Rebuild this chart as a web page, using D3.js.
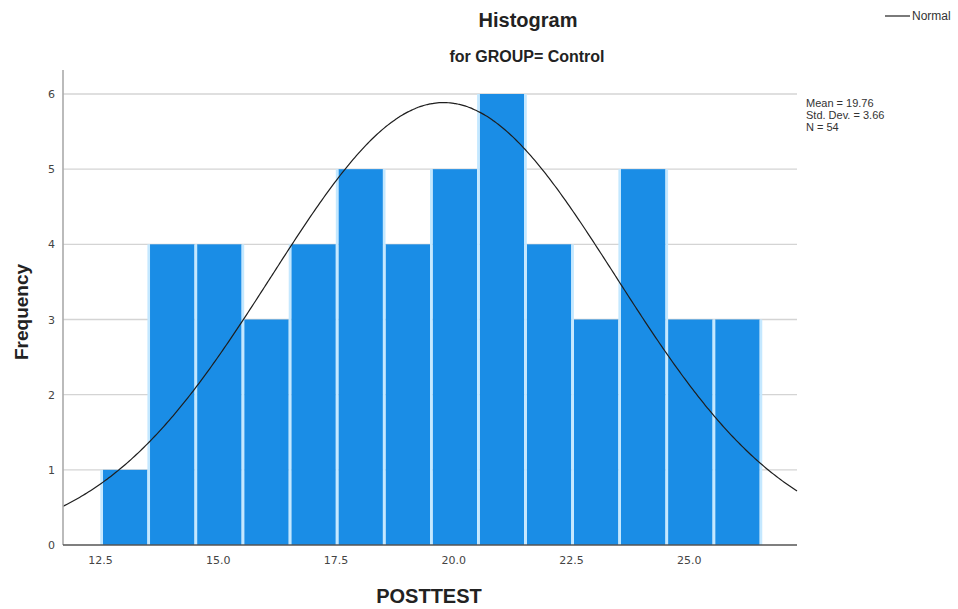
<!DOCTYPE html>
<html>
<head>
<meta charset="utf-8">
<script src="https://cdn.jsdelivr.net/npm/d3@7"></script>
<style>
  html, body { margin: 0; padding: 0; background: #fff; }
  svg { display: block; font-family: "Liberation Sans", Arial, sans-serif; }
</style>
</head>
<body>
<svg id="chart" width="958" height="609"></svg>
<script>
// POSTTEST scores for the control group, one bin per integer score
const binStarts = [12.5, 13.5, 14.5, 15.5, 16.5, 17.5, 18.5, 19.5, 20.5, 21.5, 22.5, 23.5, 24.5, 25.5];
const frequencies = [1, 4, 4, 3, 4, 5, 4, 5, 6, 4, 3, 5, 3, 3];
const binWidth = 1;
const xTicks = [12.5, 15.0, 17.5, 20.0, 22.5, 25.0];
const yTicks = [0, 1, 2, 3, 4, 5, 6];
const stats = { mean: 19.76, sd: 3.66, n: 54 };
const statLines = ["Mean = 19.76", "Std. Dev. = 3.66", "N = 54"];

const svg = d3.select("#chart");
const plot = { left: 63, right: 797, top: 70, bottom: 545 };

const x = d3.scaleLinear().domain([11.68, 27.265]).range([plot.left, plot.right]);
const y = d3.scaleLinear().domain([0, 6]).range([plot.bottom, 94]);

// horizontal grid lines
svg.append("g")
  .selectAll("line")
  .data(yTicks.filter(d => d > 0))
  .join("line")
  .attr("x1", plot.left).attr("x2", plot.right)
  .attr("y1", d => y(d)).attr("y2", d => y(d))
  .attr("stroke", "#d4d4d4").attr("stroke-width", 1.3);

const bins = binStarts.map((s, i) => ({ s, f: frequencies[i] }));

// bars, separated by a thin pale gap
const gap = 1.3;
svg.append("g")
  .selectAll("rect")
  .data(bins)
  .join("rect")
  .attr("x", d => x(d.s) + gap)
  .attr("width", d => x(d.s + binWidth) - x(d.s) - 2 * gap)
  .attr("y", d => y(d.f))
  .attr("height", d => y(0) - y(d.f))
  .attr("fill", "#1a8de6");

// pale separators between neighbouring bars and along the outer edges
const edges = binStarts.concat([binStarts[binStarts.length - 1] + binWidth]).map((e, i) => ({
  e,
  h: Math.max(i > 0 ? frequencies[i - 1] : 0, i < frequencies.length ? frequencies[i] : 0)
}));
svg.append("g")
  .selectAll("rect")
  .data(edges)
  .join("rect")
  .attr("x", d => x(d.e) - gap)
  .attr("width", 2 * gap)
  .attr("y", d => y(d.h))
  .attr("height", d => y(0) - y(d.h))
  .attr("fill", "#c4e8ff");

// fitted normal curve scaled to counts
const scale = stats.n * binWidth / (stats.sd * Math.sqrt(2 * Math.PI));
const curvePts = d3.range(0, 401).map(i => {
  const v = x.domain()[0] + (x.domain()[1] - x.domain()[0]) * i / 400;
  const z = (v - stats.mean) / stats.sd;
  return [v, scale * Math.exp(-0.5 * z * z)];
});
svg.append("path")
  .datum(curvePts)
  .attr("fill", "none")
  .attr("stroke", "#1e1e1e")
  .attr("stroke-width", 1.2)
  .attr("d", d3.line().x(d => x(d[0])).y(d => y(d[1])).curve(d3.curveBasis));

// y axis
const yAxis = svg.append("g")
  .attr("transform", `translate(${plot.left},0)`)
  .call(d3.axisLeft(y).tickValues(yTicks).tickSize(0).tickPadding(8).tickFormat(d3.format("d")));
yAxis.select(".domain").remove();
yAxis.selectAll("text").attr("font-size", 11).attr("font-family", "'DejaVu Sans', sans-serif").attr("fill", "#444");
svg.append("line")
  .attr("x1", plot.left).attr("x2", plot.left)
  .attr("y1", plot.top).attr("y2", plot.bottom)
  .attr("stroke", "#aaa").attr("stroke-width", 1.6);

// x axis
const xAxis = svg.append("g")
  .attr("transform", `translate(0,${plot.bottom})`)
  .call(d3.axisBottom(x).tickValues(xTicks).tickSize(0).tickPadding(11).tickFormat(d3.format(".1f")));
xAxis.select(".domain").remove();
xAxis.selectAll("text").attr("font-size", 11).attr("font-family", "'DejaVu Sans', sans-serif").attr("fill", "#444")
  .attr("dx", -1.5);
svg.append("line")
  .attr("x1", plot.left).attr("x2", plot.right)
  .attr("y1", plot.bottom).attr("y2", plot.bottom)
  .attr("stroke", "#555").attr("stroke-width", 1.3);

// titles
svg.append("text").attr("x", 528).attr("y", 27).attr("text-anchor", "middle")
  .attr("font-size", 20).attr("font-weight", "bold").attr("fill", "#222").text("Histogram");
svg.append("text").attr("x", 527).attr("y", 62).attr("text-anchor", "middle")
  .attr("font-size", 16).attr("font-weight", "bold").attr("fill", "#222").text("for GROUP= Control");

// axis titles
svg.append("text").attr("x", 429).attr("y", 603).attr("text-anchor", "middle")
  .attr("font-size", 20).attr("font-weight", "bold").attr("fill", "#222").text("POSTTEST");
svg.append("text").attr("transform", "translate(28,312) rotate(-90)").attr("text-anchor", "middle")
  .attr("font-size", 19).attr("font-weight", "bold").attr("fill", "#222").text("Frequency");

// legend
svg.append("line").attr("x1", 885).attr("x2", 910).attr("y1", 16).attr("y2", 16)
  .attr("stroke", "#222").attr("stroke-width", 1.2);
svg.append("text").attr("x", 912).attr("y", 20).attr("font-size", 12).attr("fill", "#333").text("Normal");

// summary statistics
svg.append("g").selectAll("text").data(statLines).join("text")
  .attr("x", 806).attr("y", (d, i) => 107 + i * 12)
  .attr("font-size", 11).attr("fill", "#333").text(d => d);
</script>
</body>
</html>
